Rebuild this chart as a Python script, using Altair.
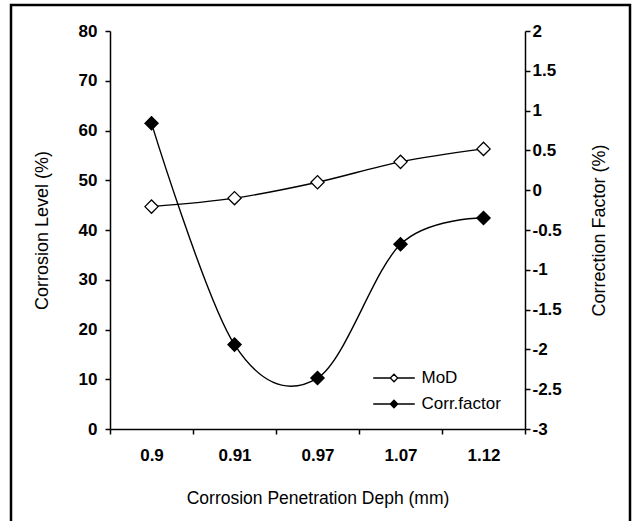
import altair as alt
import pandas as pd

# Corrosion penetration depth categories (mm)
depths = ["0.9", "0.91", "0.97", "1.07", "1.12"]
# Corrosion level (%) from the MoD method - left axis
mod_values = [44.7, 46.4, 49.6, 53.7, 56.3]
# Correction factor (%) - right axis
corr_values = [0.84, -1.94, -2.36, -0.68, -0.35]

series_names = ["MoD", "Corr.factor"]
series_fills = ["white", "black"]

mod_df = pd.DataFrame({"depth": depths, "value": mod_values, "series": "MoD"})
corr_df = pd.DataFrame({"depth": depths, "value": corr_values, "series": "Corr.factor"})

FONT = "Liberation Sans"

x_enc = alt.X(
    "depth:O",
    sort=depths,
    bandPosition=0.5,
    scale=alt.Scale(type="band", paddingInner=0, paddingOuter=0),
    axis=alt.Axis(
        title="Corrosion Penetration Deph (mm)",
        tickBand="extent",
        labelAngle=0,
        labelFontWeight="bold",
        labelFontSize=17,
        labelPadding=13,
        titleFontSize=17.5,
        titleFontWeight="normal",
        titlePadding=26,
        tickSize=5,
    ),
)

fill_enc = alt.Fill(
    "series:N",
    scale=alt.Scale(domain=series_names, range=series_fills),
    legend=alt.Legend(
        title=None,
        orient="none",
        legendX=275.5,
        legendY=338.5,
        padding=0,
        symbolType="M-2.97,0L-0.53,0M0.53,0L2.97,0M-0.53,0L0,-0.53L0.53,0L0,0.53Z",
        symbolSize=196,
        symbolStrokeColor="black",
        symbolStrokeWidth=1.3,
        labelFontSize=17,
        labelFont=FONT,
        labelOffset=19,
        rowPadding=8,
        labelColor="black",
    ),
)

# Left axis: corrosion level
y_left = alt.Y(
    "value:Q",
    scale=alt.Scale(domain=[0, 80]),
    axis=alt.Axis(
        title="Corrosion Level (%)",
        orient="left",
        values=list(range(0, 81, 10)),
        labelFontWeight="bold",
        labelFontSize=17,
        labelPadding=8,
        titleFontSize=18,
        titleFontWeight="normal",
        titlePadding=27,
        tickSize=5,
    ),
)

# Right axis: correction factor
y_right = alt.Y(
    "value:Q",
    scale=alt.Scale(domain=[-3, 2]),
    axis=alt.Axis(
        title="Correction Factor (%)",
        orient="right",
        values=[-3, -2.5, -2, -1.5, -1, -0.5, 0, 0.5, 1, 1.5, 2],
        labelExpr="'' + datum.value",
        labelFontWeight="bold",
        labelFontSize=17,
        labelPadding=2,
        titleFontSize=18,
        titleFontWeight="normal",
        titleAngle=270,
        titleBaseline="top",
        titlePadding=29,
        tickSize=5,
    ),
)

line_props = dict(interpolate="cardinal", color="black", strokeWidth=1.4)
point_props = dict(
    shape="diamond", filled=True, stroke="black", strokeWidth=1.3, size=175, opacity=1
)

mod_line = alt.Chart(mod_df).mark_line(**line_props).encode(x=x_enc, y=y_left)
mod_pts = alt.Chart(mod_df).mark_point(**point_props).encode(
    x=x_enc, y=y_left, fill=fill_enc
)
corr_line = alt.Chart(corr_df).mark_line(**line_props).encode(x=x_enc, y=y_right)
corr_pts = alt.Chart(corr_df).mark_point(**point_props).encode(
    x=x_enc, y=y_right, fill=fill_enc
)

# Outer frame around the figure
frame = alt.Chart(pd.DataFrame({"f": [0]})).mark_rect(
    filled=False, stroke="black", strokeWidth=2.5
).encode(
    x=alt.value(-99), x2=alt.value(520), y=alt.value(-26), y2=alt.value(510)
)

chart = (
    alt.layer(
        alt.layer(mod_line, mod_pts),
        alt.layer(corr_line, corr_pts),
        frame,
    )
    .resolve_scale(y="independent")
    .properties(
        width=415,
        height=398,
        autosize=alt.AutoSizeParams(type="none"),
        padding={"left": 110, "top": 31, "right": 107, "bottom": 92},
        background="white",
    )
    .configure_view(strokeWidth=0)
    .configure_axis(
        grid=False,
        domainColor="black",
        domainWidth=1.5,
        tickColor="black",
        tickWidth=1.5,
        labelColor="black",
        titleColor="black",
        labelFont=FONT,
        titleFont=FONT,
    )
)

chart.save("out.html", embed_options={"renderer": "svg", "actions": False})
